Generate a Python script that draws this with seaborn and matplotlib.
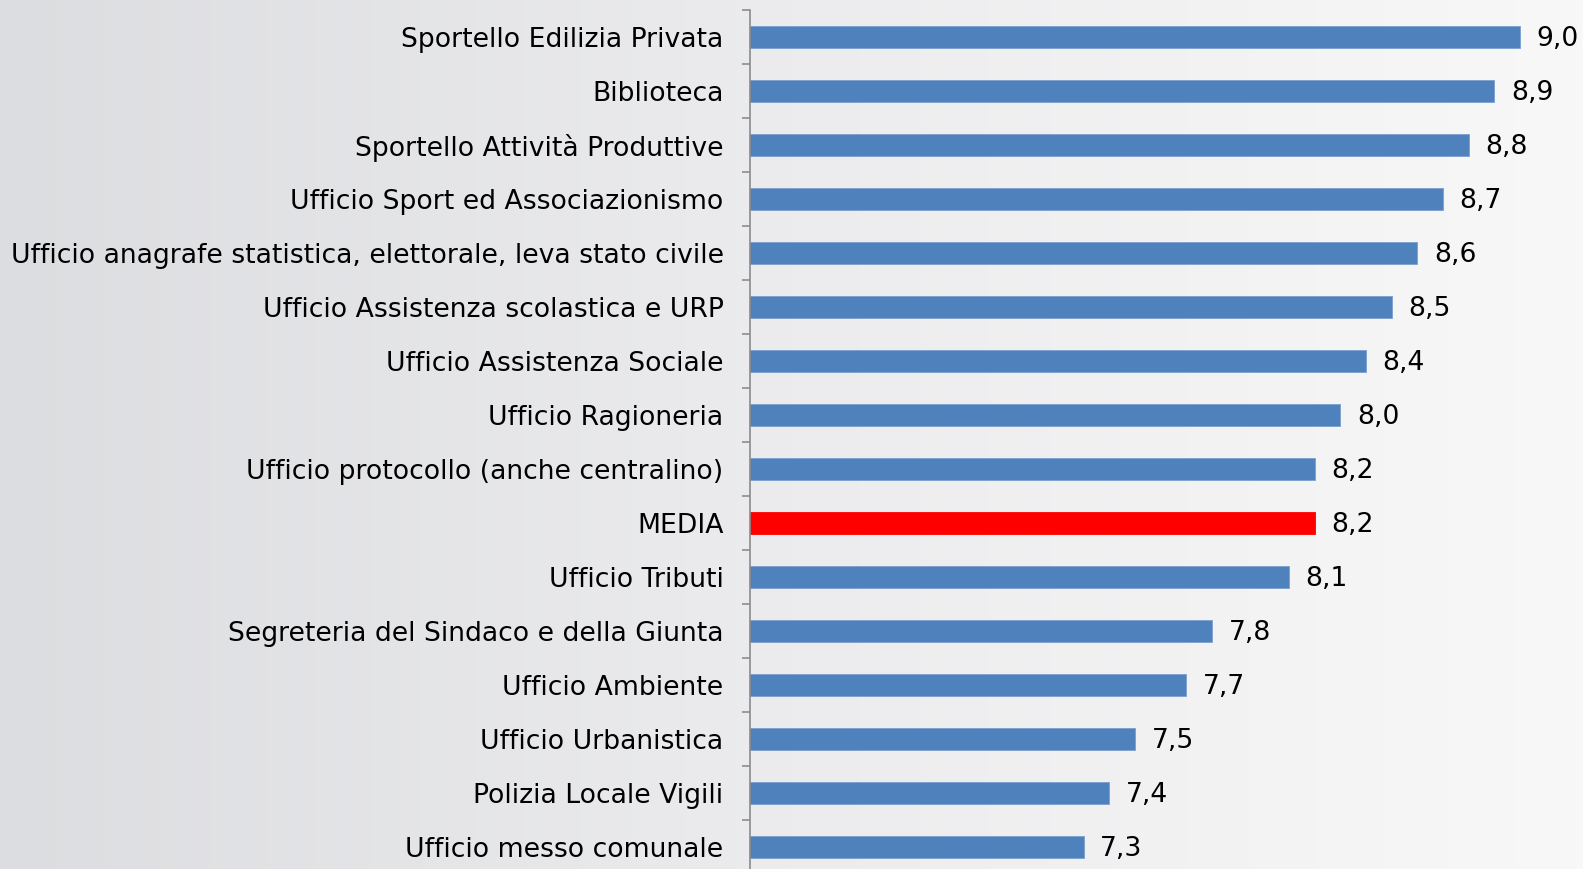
import numpy as np
import pandas as pd
import matplotlib
matplotlib.use("Agg")
import matplotlib.pyplot as plt
import seaborn as sns
from matplotlib.ticker import FixedLocator
from matplotlib.colors import LinearSegmentedColormap

categories = [
    "Sportello Edilizia Privata",
    "Biblioteca",
    "Sportello Attività Produttive",
    "Ufficio Sport ed Associazionismo",
    "Ufficio anagrafe statistica, elettorale, leva stato civile",
    "Ufficio Assistenza scolastica e URP",
    "Ufficio Assistenza Sociale",
    "Ufficio Ragioneria",
    "Ufficio protocollo (anche centralino)",
    "MEDIA",
    "Ufficio Tributi",
    "Segreteria del Sindaco e della Giunta",
    "Ufficio Ambiente",
    "Ufficio Urbanistica",
    "Polizia Locale Vigili",
    "Ufficio messo comunale",
]
bar_values = [9.0, 8.9, 8.8, 8.7, 8.6, 8.5, 8.4, 8.3, 8.2, 8.2, 8.1, 7.8, 7.7, 7.5, 7.4, 7.3]
value_labels = ["9,0", "8,9", "8,8", "8,7", "8,6", "8,5", "8,4", "8,0", "8,2", "8,2",
                "8,1", "7,8", "7,7", "7,5", "7,4", "7,3"]

sns.set_theme(style="white")
plt.rcParams["font.family"] = ["DejaVu Sans"]

W, H = 1583, 869
fig = plt.figure(figsize=(W / 100, H / 100), dpi=100)

# background gradient
bg = fig.add_axes([0, 0, 1, 1])
grad = np.linspace(0, 1, 256).reshape(1, -1)
cmap = LinearSegmentedColormap.from_list("bg", ["#dcdde0", "#ececee", "#f8f8f8"])
bg.imshow(grad, aspect="auto", cmap=cmap, extent=[0, 1, 0, 1])
bg.set_axis_off()

ax_left = 750 / W
ax_top = 10 / H
n = len(categories)
pitch = 54.0
ax_h_px = n * pitch
ax = fig.add_axes([ax_left, 1 - ax_top - ax_h_px / H, 1 - ax_left, ax_h_px / H])
ax.patch.set_alpha(0)

df = pd.DataFrame({"cat": categories, "val": bar_values})
colors = ["#FF0000" if c == "MEDIA" else "#4F81BD" for c in categories]
sns.barplot(data=df, x="val", y="cat", hue="cat", palette=colors, width=0.39,
            saturation=1, legend=False, ax=ax, orient="h",
            edgecolor="#7a9fcf", linewidth=0.6)
for p, c in zip(ax.patches, colors):
    if c == "#FF0000":
        p.set_edgecolor("#FF0000")

px_per_unit = 770 / 3.0
ax.set_xlim(6.0, 6.0 + (W - 750) / px_per_unit)
ax.set_ylim(n - 0.5, -0.5)

for i, (v, lab) in enumerate(zip(bar_values, value_labels)):
    ax.annotate(lab, xy=(v, i), xytext=(12, -1.5), textcoords="offset points",
                va="center", ha="left", fontsize=19.2, color="black")

ax.set_xlabel("")
ax.set_ylabel("")
ax.set_xticks([])
ax.tick_params(axis="y", which="major", length=0, pad=19, labelsize=19.2, labelcolor="black")
ax.yaxis.set_minor_locator(FixedLocator(np.arange(-0.5, n, 1.0)))
ax.tick_params(axis="y", which="minor", length=6, width=1.2, color="#8c8c8c", direction="out", left=True)
for s in ["top", "right", "bottom"]:
    ax.spines[s].set_visible(False)
ax.spines["left"].set_color("#8c8c8c")
ax.spines["left"].set_linewidth(1.2)

fig.savefig("out.png", dpi=100)
